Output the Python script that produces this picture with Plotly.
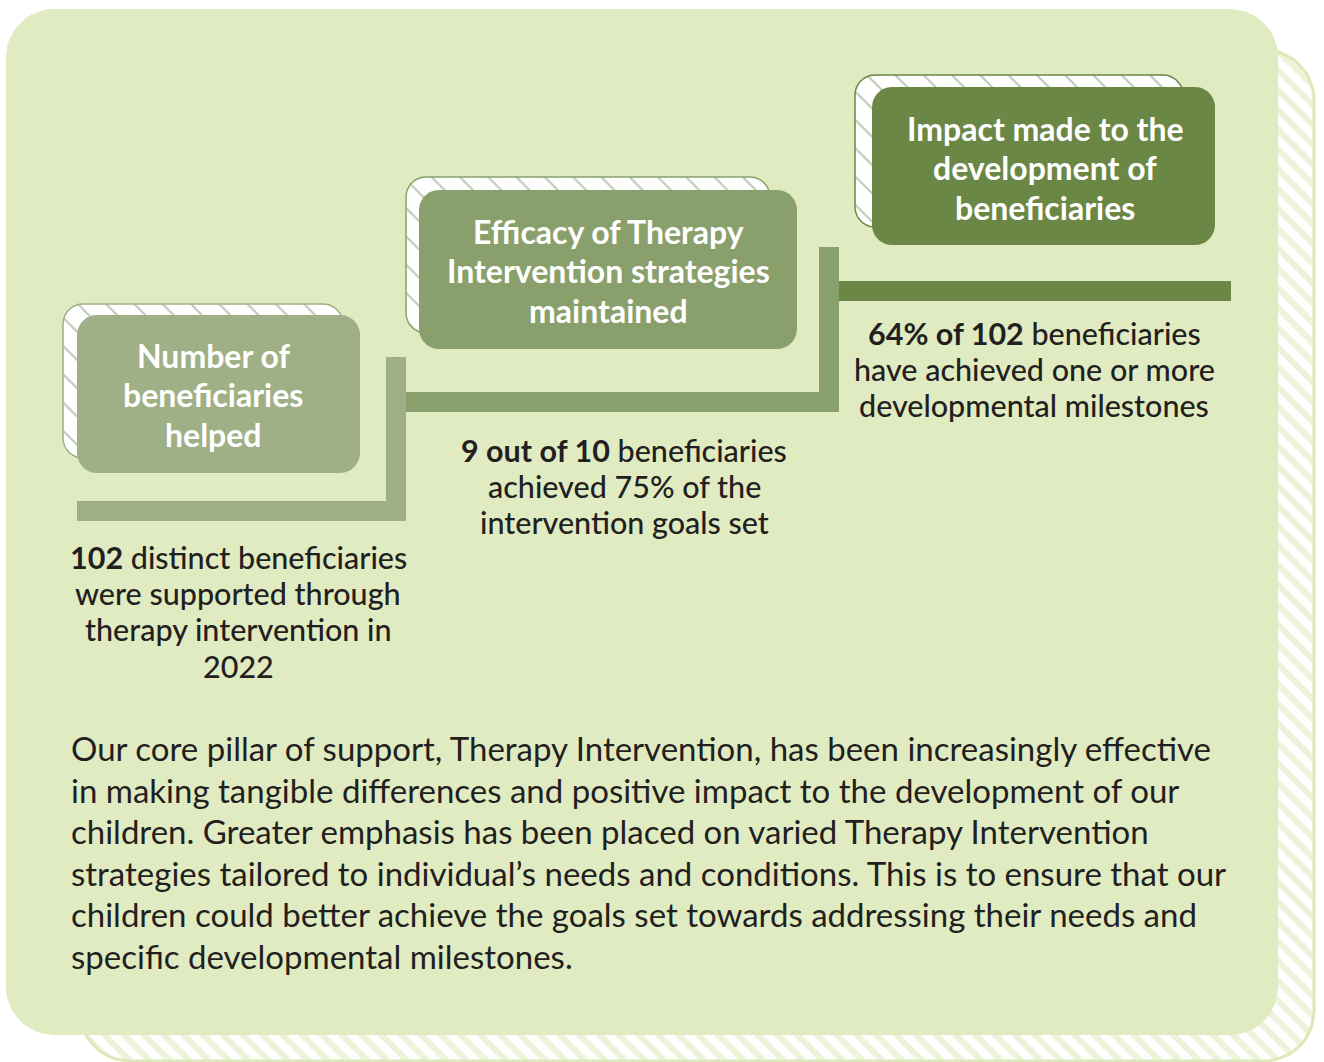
import numpy as np
import plotly.graph_objects as go

W, H = 1324, 1062

# ---- content -------------------------------------------------------------
box_titles = [
    "Number of<br>beneficiaries<br>helped",
    "Efficacy of Therapy<br>Intervention strategies<br>maintained",
    "Impact made to the<br>development of<br>beneficiaries",
]
descriptions = [
    "<b>102</b> distinct beneficiaries<br>were supported through<br>therapy intervention in<br>2022",
    "<b>9 out of 10</b> beneficiaries<br>achieved 75% of the<br>intervention goals set",
    "<b>64% of 102</b> beneficiaries<br>have achieved one or more<br>developmental milestones",
]
paragraph_lines = [
    "Our core pillar of support, Therapy Intervention, has been increasingly effective",
    "in making tangible differences and positive impact to the development of our",
    "children. Greater emphasis has been placed on varied Therapy Intervention",
    "strategies tailored to individual\u2019s needs and conditions. This is to ensure that our",
    "children could better achieve the goals set towards addressing their needs and",
    "specific developmental milestones.",
]

# ---- layout geometry / styles ---------------------------------------------
box_colors = ["#9fb086", "#8aa06c", "#6b8746"]
panel_color = "#e1ebc1"
text_dark = "#231f20"
boxes = [(77, 315, 360, 473), (419, 190, 797, 349), (872, 87, 1215, 245)]
box_shadows = [(63, 304, 343, 458), (406, 177, 770, 333), (855, 75, 1183, 227)]
title_pos = [(213, 355), (608, 231), (1045, 128)]   # centre x, first line y
title_dy = 39.5
connectors = [  # (x0, y0, x1, y1, colour index)
    (77, 501, 406, 521, 0), (386, 357, 406, 521, 0),
    (406, 392, 839, 412, 1), (819, 247, 839, 412, 1),
    (839, 281, 1231, 301, 2),
]
desc_pos = [(238, 557), (624, 450), (1034, 333)]     # centre x, first line y
desc_dy = 36.2
para_x, para_y0, para_dy = 69, 748, 41.6


def rrect(x0, y0, x1, y1, r, n=14):
    xs, ys = [], []
    corners = [
        (x1 - r, y0 + r, -90, 0),
        (x1 - r, y1 - r, 0, 90),
        (x0 + r, y1 - r, 90, 180),
        (x0 + r, y0 + r, 180, 270),
    ]
    for cx, cy, a0, a1 in corners:
        t = np.radians(np.linspace(a0, a1, n))
        xs.extend(cx + r * np.cos(t))
        ys.extend(cy + r * np.sin(t))
    xs.append(xs[0])
    ys.append(ys[0])
    return xs, ys


fig = go.Figure()


def add_shape_trace(x, y, fill, line_color=None, line_width=0, pattern=None):
    kw = dict(
        x=x, y=y, mode="lines", fill="toself", hoverinfo="skip",
        showlegend=False,
        line=dict(color=line_color or fill, width=line_width),
    )
    if pattern:
        kw["fillpattern"] = pattern
    else:
        kw["fillcolor"] = fill
    fig.add_trace(go.Scatter(**kw))


# panel shadow (hatched)
x, y = rrect(80, 50, 1314, 1061, 50)
add_shape_trace(x, y, "white", line_color="#dce8b8", line_width=3,
                pattern=dict(shape="\\", fgcolor="#dce8b8", bgcolor="white",
                             size=14, solidity=0.45))
# main panel
x, y = rrect(6, 9, 1278, 1035, 48)
add_shape_trace(x, y, panel_color)

# box shadows + boxes
for (sx0, sy0, sx1, sy1), (bx0, by0, bx1, by1), c in zip(box_shadows, boxes, box_colors):
    x, y = rrect(sx0, sy0, sx1, sy1, 20)
    add_shape_trace(x, y, "white", line_color=c, line_width=1.5,
                    pattern=dict(shape="\\", fgcolor="#7f9168", bgcolor="white",
                                 size=20, solidity=0.1))
    x, y = rrect(bx0, by0, bx1, by1, 20)
    add_shape_trace(x, y, c)

# connectors
for x0, y0, x1, y1, ci in connectors:
    add_shape_trace([x0, x1, x1, x0, x0], [y0, y0, y1, y1, y0], box_colors[ci])

annotations = []
for (tx, ty), t in zip(title_pos, box_titles):
    for j, line in enumerate(t.split("<br>")):
        annotations.append(dict(
            x=tx, y=ty + j * title_dy, text=line, showarrow=False,
            xanchor="center", yanchor="middle", align="center",
            font=dict(family="Lato", size=32, color="white", weight=700),
        ))
for (dx, dy), t in zip(desc_pos, descriptions):
    for j, line in enumerate(t.split("<br>")):
        annotations.append(dict(
            x=dx, y=dy + j * desc_dy, text=line, showarrow=False,
            xanchor="center", yanchor="middle", align="center",
            font=dict(family="Lato", size=30.5, color=text_dark, weight=500),
        ))
for i, line in enumerate(paragraph_lines):
    annotations.append(dict(
        x=para_x, y=para_y0 + i * para_dy, text=line, showarrow=False,
        xanchor="left", yanchor="middle", align="left",
        font=dict(family="Lato", size=33, color=text_dark, weight=400),
    ))

fig.update_layout(
    width=W, height=H,
    margin=dict(l=0, r=0, t=0, b=0),
    paper_bgcolor="white", plot_bgcolor="white",
    xaxis=dict(range=[0, W], visible=False, fixedrange=True),
    yaxis=dict(range=[H, 0], visible=False, fixedrange=True),
    annotations=annotations,
    showlegend=False,
)

fig.write_html(
    "out.html",
    config={"displayModeBar": False},
    post_script="document.body.style.margin='0';document.body.style.overflow='hidden';",
)
